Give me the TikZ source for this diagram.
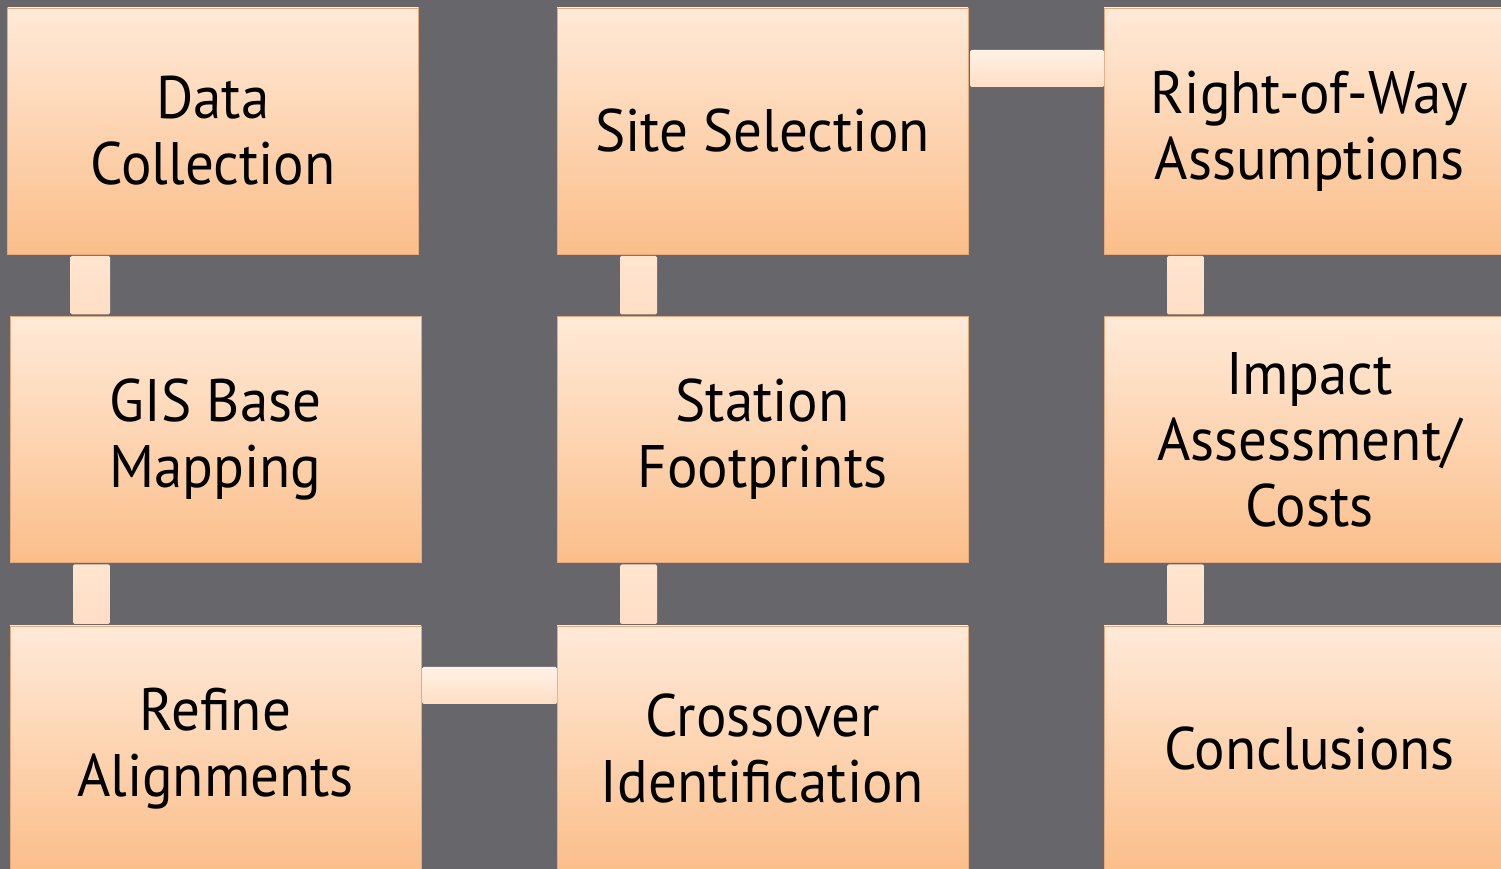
\documentclass[tikz,border=0pt]{standalone}
\usepackage{fontspec}
\setmainfont{PT Sans}[FakeStretch=0.95]
\usepackage{xcolor}
\usepackage{tikz}
\usetikzlibrary{calc}

\definecolor{slate}{RGB}{103,103,107}
\definecolor{peachtop}{RGB}{255,234,216}
\definecolor{peachbot}{RGB}{251,190,138}
\definecolor{peachedge}{RGB}{230,170,125}
\definecolor{barlight}{RGB}{255,242,232}
\definecolor{barpeach}{RGB}{255,222,196}

\begin{document}
\begin{tikzpicture}[x=1pt,y=1pt,
  stepbox/.style={draw=peachedge,line width=0.6pt,top color=peachtop,bottom color=peachbot,
    minimum width=411pt,minimum height=246pt,inner sep=0pt,outer sep=0pt,
    align=center,font=\fontsize{60}{66}\selectfont},
  vbar/.style={top color=barpeach!80!white,bottom color=barpeach,rounded corners=1.5pt},
  hbar/.style={top color=barlight,bottom color=barpeach,rounded corners=1.5pt}]
% Background
\fill[slate] (0,0) rectangle (1501,869);
\useasboundingbox (0,0) rectangle (1501,869);

% Boxes
\node[stepbox] (datacoll)  at (213,738)    {Data\\Collection};
\node[stepbox] (gisbase)   at (215.5,429.5) {GIS Base\\Mapping};
\node[stepbox] (refine)    at (215.5,120)  {Refine\\Alignments};
\node[stepbox] (sitesel)   at (762.5,738)  {Site Selection};
\node[stepbox] (station)   at (762.5,429.5) {Station\\Footprints};
\node[stepbox] (crossover) at (762.5,120)  {Crossover\\Identification};
\node[stepbox] (rowassum)  at (1309.5,738) {Right-of-Way\\Assumptions};
\node[stepbox] (impact)    at (1309.5,429.5) {Impact\\Assessment/\\Costs};
\node[stepbox] (concl)     at (1309.5,120) {Conclusions};

% Vertical links
\foreach \a/\b in {datacoll/gisbase,gisbase/refine,sitesel/station,station/crossover,rowassum/impact,impact/concl}
  \shade[vbar] ([xshift=63pt,yshift=-2pt]\a.south west) rectangle ([xshift=100pt,yshift=2pt]\b.north west);

% Horizontal links
\shade[hbar] ([xshift=2pt,yshift=-42pt]sitesel.north east) rectangle ([yshift=-79pt]rowassum.north west);
\shade[hbar] ([xshift=1pt,yshift=-41pt]refine.north east) rectangle ([yshift=-78pt]crossover.north west);
\end{tikzpicture}
\end{document}
